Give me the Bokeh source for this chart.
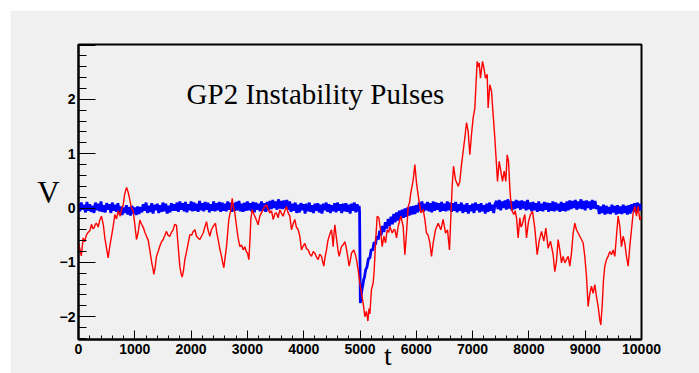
import numpy as np
from bokeh.plotting import figure
from bokeh.models import Range1d, SingleIntervalTicker, Label
from bokeh.embed import file_html
from bokeh.resources import INLINE

# ---------------- data ----------------
title_text = "GP2 Instability Pulses"
x_label = "t"
y_label = "V"

# red trace: (t, V)
red_points = [
    (0, -0.65), (24, -0.75), (50, -0.88), (83, -0.55), (110, -0.62), (140, -0.5), (170, -0.45),
    (201, -0.42), (231, -0.3), (255, -0.38), (280, -0.36), (300, -0.3), (320, -0.28), (350, -0.35),
    (379, -0.22), (408, -0.15), (440, -0.3), (468, -0.55), (500, -0.75), (527, -0.92), (556, -0.7),
    (590, -0.5), (616, -0.34), (645, -0.12), (675, -0.2), (705, -0.05), (740, -0.15), (765, -0.02),
    (793, 0.05), (820, 0.25), (853, 0.38), (880, 0.3), (912, 0.15), (940, 0.0), (971, -0.05),
    (1000, -0.3), (1030, -0.58), (1060, -0.45), (1090, -0.22), (1120, -0.3), (1149, -0.35),
    (1180, -0.45), (1208, -0.52), (1240, -0.6), (1267, -0.78), (1300, -1.0), (1326, -1.14),
    (1338, -1.22), (1360, -1.1), (1385, -0.89), (1415, -0.8), (1445, -0.7), (1475, -0.62),
    (1504, -0.58), (1535, -0.5), (1563, -0.43), (1590, -0.5), (1622, -0.52), (1650, -0.45),
    (1681, -0.4), (1710, -0.3), (1741, -0.32), (1770, -0.7), (1800, -1.07), (1820, -1.2),
    (1841, -1.27), (1865, -1.15), (1889, -0.95), (1920, -0.8), (1948, -0.65), (1978, -0.49),
    (2010, -0.5), (2037, -0.43), (2067, -0.40), (2096, -0.52), (2125, -0.55), (2155, -0.58),
    (2185, -0.52), (2214, -0.46), (2245, -0.35), (2274, -0.25), (2300, -0.4), (2333, -0.52),
    (2360, -0.4), (2392, -0.34), (2433, -0.28), (2455, -0.45), (2481, -0.58), (2510, -0.75),
    (2540, -0.89), (2560, -1.0), (2582, -1.1), (2605, -0.9), (2629, -0.71), (2650, -0.45),
    (2670, -0.21), (2706, -0.03), (2730, 0.18), (2755, 0.0), (2777, -0.09), (2807, -0.34),
    (2835, -0.55), (2866, -0.71), (2895, -0.68), (2925, -0.77), (2955, -0.71), (2980, -0.8),
    (3002, -0.83), (3026, -0.95), (3045, -0.6), (3061, -0.21), (3085, -0.03), (3110, -0.1),
    (3132, -0.15), (3160, -0.22), (3191, -0.31), (3220, -0.15), (3250, -0.09), (3280, -0.02),
    (3310, 0.03), (3340, 0.06), (3369, -0.03), (3398, -0.09), (3428, -0.05), (3458, -0.21),
    (3490, -0.1), (3517, -0.09), (3545, -0.18), (3576, -0.03), (3605, -0.1), (3635, -0.15),
    (3665, -0.05), (3694, 0.03), (3720, -0.08), (3754, -0.15), (3783, -0.40), (3810, -0.3),
    (3842, -0.21), (3870, -0.35), (3902, -0.40), (3931, -0.52), (3961, -0.77), (3990, -0.7),
    (4020, -0.65), (4050, -0.75), (4079, -0.77), (4110, -0.85), (4138, -0.89), (4170, -0.8),
    (4198, -0.83), (4225, -0.9), (4257, -0.95), (4285, -0.85), (4316, -0.89), (4340, -1.0),
    (4357, -1.07), (4380, -0.9), (4405, -0.77), (4430, -0.6), (4452, -0.52), (4475, -0.45),
    (4493, -0.40), (4510, -0.55), (4523, -0.71), (4540, -0.45), (4553, -0.31), (4575, -0.5),
    (4594, -0.65), (4612, -0.8), (4630, -0.89), (4650, -0.8), (4671, -0.71), (4700, -0.68),
    (4730, -0.62), (4750, -0.7), (4772, -0.83), (4790, -0.95), (4807, -1.07), (4830, -0.95),
    (4849, -0.83), (4870, -0.8), (4890, -0.77), (4915, -0.85), (4938, -0.95), (4967, -1.14),
    (4997, -1.38), (5030, -1.6), (5056, -1.75), (5086, -2.0), (5115, -1.9), (5140, -2.08),
    (5160, -1.85), (5175, -1.95), (5204, -1.5), (5234, -1.38), (5252, -1.14), (5276, -0.64),
    (5305, -0.15), (5335, -0.18), (5364, -0.40), (5394, -0.71), (5424, -0.52), (5453, -0.64),
    (5483, -0.40), (5510, -0.45), (5530, -0.34), (5572, -0.46), (5600, -0.4), (5619, -0.40),
    (5649, -0.55), (5678, -0.34), (5700, -0.25), (5726, -0.15), (5767, -0.34), (5797, -0.86),
    (5826, -0.46), (5856, 0.03), (5880, 0.1), (5903, 0.28), (5945, 0.52), (5974, 0.80),
    (6004, 0.46), (6045, 0.15), (6081, -0.09), (6122, -0.03), (6152, -0.21), (6181, -0.46),
    (6210, -0.5), (6241, -0.64), (6270, -0.89), (6300, -0.64), (6341, -0.40), (6389, -0.28),
    (6436, -0.40), (6477, -0.21), (6519, -0.46), (6554, -0.40), (6590, -0.77), (6614, -0.15),
    (6637, 0.40), (6661, 0.77), (6696, 0.52), (6744, 0.40), (6773, 0.49), (6803, 0.80),
    (6832, 1.04), (6862, 1.29), (6892, 1.57), (6921, 1.41), (6951, 0.98), (6980, 1.35),
    (7010, 1.66), (7040, 1.84), (7057, 2.21), (7081, 2.70), (7100, 2.6), (7117, 2.67),
    (7140, 2.39), (7176, 2.70), (7200, 2.58), (7229, 2.39), (7259, 2.46), (7276, 1.84),
    (7306, 2.27), (7336, 2.15), (7365, 1.72), (7395, 1.29), (7424, 0.80), (7442, 0.49),
    (7472, 0.86), (7501, 0.68), (7531, 0.49), (7561, 0.68), (7590, 0.49), (7614, 0.98),
    (7638, 0.86), (7661, 0.37), (7679, 0.12), (7703, -0.06), (7732, -0.12), (7755, -0.05),
    (7780, -0.18), (7809, -0.55), (7839, -0.18), (7860, -0.35), (7880, -0.31), (7905, -0.2),
    (7928, -0.12), (7957, -0.55), (7993, -0.25), (8028, -0.12), (8064, -0.06), (8105, -0.37),
    (8147, -0.86), (8182, -0.61), (8224, -0.43), (8265, -0.61), (8301, -0.37), (8342, -0.74),
    (8383, -0.61), (8431, -0.86), (8460, -1.17), (8490, -0.98), (8519, -0.58), (8549, -0.77),
    (8579, -1.01), (8608, -0.89), (8638, -1.01), (8667, -0.95), (8697, -0.89), (8727, -1.07),
    (8756, -0.83), (8786, -0.46), (8815, -0.28), (8845, -0.40), (8875, -0.46), (8904, -0.52),
    (8934, -0.58), (8963, -0.64), (8993, -0.89), (9023, -1.26), (9052, -1.81), (9082, -1.57),
    (9111, -1.44), (9141, -1.57), (9171, -1.41), (9200, -1.63), (9230, -1.81), (9259, -2.06),
    (9277, -2.15), (9301, -1.81), (9325, -1.32), (9348, -1.07), (9378, -0.95), (9407, -0.89),
    (9437, -0.80), (9467, -0.86), (9496, -0.77), (9526, -0.89), (9555, -0.52), (9585, -0.15),
    (9615, -0.34), (9644, -0.71), (9674, -0.52), (9703, -0.64), (9733, -0.89), (9763, -1.07),
    (9792, -0.71), (9822, -0.40), (9852, -0.09), (9881, 0.03), (9911, -0.15), (9941, 0.03),
    (9970, -0.22), (10000, -0.15),
]

# blue trace before the pulse: one sample every 25 from t = 0
blue_pre_step = 25
blue_pre_v = [
    0.08, -0.06, 0.10, -0.03, 0.06, -0.08, 0.11, -0.05, 0.07, -0.07, 0.04, -0.09, 0.10, -0.04,
    0.08, -0.06, 0.12, -0.07, 0.05, -0.08, 0.09, -0.03, 0.07, -0.09, 0.10, -0.05, 0.06, -0.07, 0.09,
    -0.11, 0.03, -0.13, 0.01, -0.09, 0.05, -0.12, 0.02, -0.14, 0.04, -0.10, 0.01, -0.13, 0.03, -0.11, 0.02,
    -0.08, 0.07, -0.05, 0.10, -0.09, 0.04, -0.07, 0.09, -0.10, 0.06, -0.04, 0.08, -0.09, 0.05,
    -0.07, 0.10, -0.06, 0.08, -0.10, 0.04, -0.08, 0.09, -0.05, 0.07,
    -0.05, 0.10, -0.07, 0.12, -0.03, 0.09, -0.06, 0.11, -0.08, 0.07, -0.04, 0.12, -0.06, 0.10,
    -0.05, 0.08, -0.07, 0.13, -0.04, 0.09, -0.06, 0.11, -0.03, 0.10, -0.08, 0.07, -0.05, 0.12,
    -0.06, 0.09, -0.04, 0.11, -0.07, 0.10, -0.05, 0.08, -0.06, 0.12, -0.03, 0.10, -0.07, 0.09,
    -0.05, 0.11, -0.04, 0.13, -0.06, 0.08, -0.07, 0.10, -0.05, 0.12, -0.04, 0.09, -0.06, 0.11,
    -0.08, 0.10, -0.03, 0.08, -0.06, 0.12, -0.05, 0.09, -0.07, 0.11, -0.04,
    0.13, -0.02, 0.15, 0.0, 0.12, -0.03, 0.16, -0.01, 0.13, -0.02, 0.14, 0.0, 0.15, -0.03, 0.12,
    -0.07, 0.08, -0.05, 0.10, -0.09, 0.06, -0.08, 0.09, -0.04, 0.07, -0.10, 0.08, -0.06, 0.10,
    -0.07, 0.05, -0.09, 0.08, -0.05, 0.09, -0.08, 0.06, -0.10, 0.08, -0.04, 0.10, -0.07, 0.07,
    -0.09, 0.05, -0.06, 0.09, -0.08, 0.10, -0.05, 0.07, -0.09, 0.08, -0.06, 0.09, -0.07, 0.06,
    -0.10, 0.08, -0.05, 0.10, -0.08, 0.07, -0.06,
]

# blue trace: the pulse and its recovery, (t, V)
blue_pulse = [
    (4985, 0.04), (4992, -0.06), (5000, -1.0), (5006, -1.75), (5020, -1.62), (5035, -1.50),
    (5050, -1.42), (5065, -1.32), (5080, -1.27), (5100, -1.14), (5125, -1.08), (5150, -0.93),
    (5175, -0.92), (5200, -0.76), (5225, -0.78), (5250, -0.63), (5275, -0.67), (5300, -0.52),
    (5325, -0.58), (5350, -0.42), (5375, -0.50), (5400, -0.33), (5425, -0.44), (5450, -0.26),
    (5475, -0.38), (5500, -0.20), (5525, -0.33), (5550, -0.16), (5575, -0.30), (5600, -0.11),
    (5625, -0.26), (5650, -0.08), (5675, -0.23), (5700, -0.05), (5725, -0.20), (5750, -0.03),
    (5775, -0.18), (5800, -0.01), (5825, -0.16), (5850, 0.01), (5875, -0.14), (5900, 0.03),
    (5925, -0.12), (5950, 0.04), (5975, -0.11), (6000, 0.05), (6025, -0.08),
]

# blue trace after the pulse: one sample every 25 from t = 6050
blue_post_start = 6050
blue_post_step = 25
blue_post_v = [
    0.10, -0.05, 0.12, -0.07, 0.08, -0.04, 0.11, -0.06, 0.09, -0.08, 0.12, -0.05, 0.10, -0.03,
    0.09, -0.07, 0.11, -0.05, 0.08, -0.06, 0.12, -0.04, 0.10, -0.07, 0.09, -0.05, 0.11,
    -0.08, 0.07, -0.05, 0.10, -0.09, 0.06, -0.07, 0.09, -0.10, 0.05, -0.06, 0.08, -0.09, 0.10,
    -0.04, 0.07, -0.08, 0.09, -0.06, 0.05, -0.10, 0.08, -0.07, 0.10, -0.05, 0.06, -0.09, 0.08,
    0.13, -0.02, 0.15, -0.04, 0.12, 0.0, 0.14, -0.03, 0.16, -0.01, 0.13, -0.04, 0.12, -0.02,
    0.15, 0.0, 0.13, -0.03, 0.14, -0.01, 0.12, -0.04, 0.15, -0.02,
    0.10, -0.06, 0.11, -0.04, 0.09, -0.07, 0.12, -0.05, 0.08, -0.06, 0.11, -0.03, 0.10, -0.07,
    0.09, -0.05, 0.12, -0.06, 0.10, -0.04, 0.08, -0.07, 0.11, -0.05, 0.09, -0.06, 0.12, -0.04,
    0.14, -0.02, 0.13, 0.0, 0.15, -0.03, 0.12, -0.01, 0.16, -0.02, 0.13, -0.04, 0.14, 0.0,
    0.12, -0.03, 0.15, -0.01, 0.13, -0.02,
    0.05, -0.11, 0.03, -0.09, 0.06, -0.12, 0.04, -0.10, 0.02, -0.11, 0.06, -0.08, 0.04, -0.12,
    0.05, -0.10, 0.03, -0.11, 0.06, -0.09, 0.04, -0.12, 0.05, -0.10,
    0.07, -0.06, 0.09, -0.08, 0.10, -0.05, 0.08, -0.04,
]

# ---------------- assemble ----------------
red_t = [a for a, b in red_points]
red_v = [b for a, b in red_points]

blue_t = list(blue_pre_step * np.arange(len(blue_pre_v)))
blue_v = list(blue_pre_v)
blue_t += [a for a, b in blue_pulse]
blue_v += [b for a, b in blue_pulse]
blue_t += list(blue_post_start + blue_post_step * np.arange(len(blue_post_v)))
blue_v += list(blue_post_v)

BG = "#f0f0f0"

p = figure(
    width=689, height=363,
    output_backend="svg", toolbar_location=None,
    x_range=Range1d(0, 10000), y_range=Range1d(-2.42, 3.01),
    min_border_left=68, min_border_right=58, min_border_top=34, min_border_bottom=34,
    background_fill_color=BG, border_fill_color=BG,
)
p.margin = (10, 0, 0, 10)
p.grid.visible = False
p.outline_line_color = "black"
p.outline_line_width = 2
p.outline_line_alpha = 1

p.xaxis.ticker = SingleIntervalTicker(interval=1000, num_minor_ticks=5)
p.yaxis.ticker = SingleIntervalTicker(interval=1, num_minor_ticks=5)
p.yaxis.major_label_overrides = {3: ""}

for ax in (p.xaxis[0], p.yaxis[0]):
    ax.axis_line_color = "black"
    ax.axis_line_width = 2
    ax.major_tick_line_color = "black"
    ax.minor_tick_line_color = "black"
    ax.major_tick_line_width = 1
    ax.minor_tick_line_width = 1
    ax.major_tick_out = 0
    ax.minor_tick_out = 0
    ax.major_label_text_font = "Liberation Sans"
    ax.major_label_text_font_style = "bold"
    ax.major_label_text_font_size = "14px"
    ax.major_label_text_color = "black"
    ax.axis_label_text_font = "Liberation Serif"
    ax.axis_label_text_font_style = "normal"
    ax.axis_label_text_color = "black"

p.xaxis.major_tick_in = 9
p.xaxis.minor_tick_in = 4
p.xaxis.major_label_standoff = 4
p.yaxis.major_tick_in = 17
p.yaxis.minor_tick_in = 8
p.yaxis.major_label_standoff = 3

# axis titles (the "t" sits right of the axis centre, as in the original)
p.xaxis.axis_label = "\u00a0" * 8 + x_label
p.xaxis.axis_label_text_font_size = "28px"
p.xaxis.axis_label_standoff = -17
p.yaxis.axis_label = y_label
p.yaxis.axis_label_orientation = "horizontal"
p.yaxis.axis_label_text_font_size = "31px"
p.yaxis.axis_label_standoff = -3

p.line(blue_t, blue_v, line_color="#0000ff", line_width=2.8)
p.line(red_t, red_v, line_color="#ff0000", line_width=1.4)

p.add_layout(Label(x=1920, y=2.10, text=title_text, text_font="Liberation Serif",
                   text_font_size="29px", text_color="black", text_baseline="alphabetic"))

open("out.html", "w").write(file_html(p, INLINE))
